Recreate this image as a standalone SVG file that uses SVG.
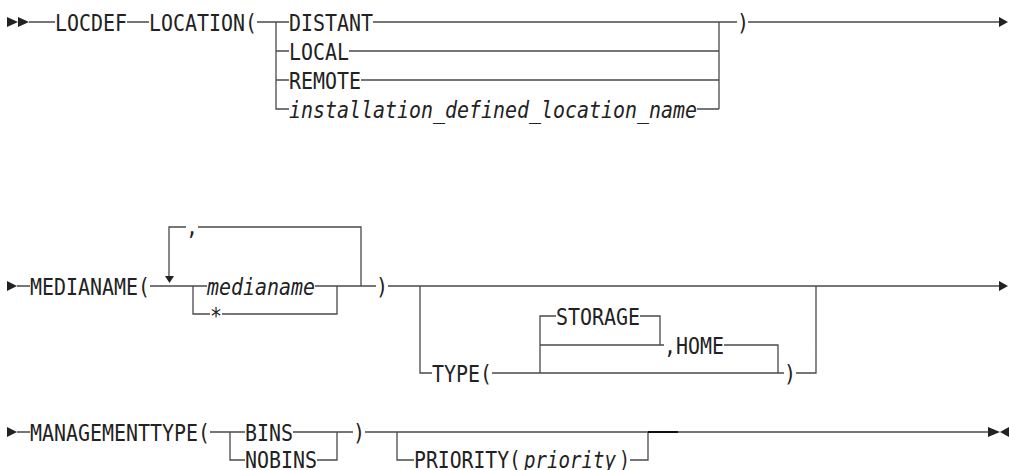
<svg xmlns="http://www.w3.org/2000/svg" width="1009" height="470" viewBox="0 0 1009 470">
<style>
text{font-family:"DejaVu Sans Mono","Liberation Mono",monospace;font-size:23px;fill:#222}
.i{font-style:italic}
.c path{fill:none;stroke:#4a4a4a;stroke-width:1.3}
.c path.dk{stroke:#111;stroke-width:2}
.ah{fill:#222}
</style>
<rect width="1009" height="470" fill="#fff"/>
<g class="c" id="connectors">
<path d="M29 22H55M127 22H149M257 22H289M276 22V109H289M276 51H289M276 80H289M373 22H737M719 22V109M349 51H719M361 80H719M697 109H719M748 22H1000"/>
<path d="M17 286H30M150 286H207M169 276V227H186M198 227H361V286M193 286V314H210M222 314H337V286M315 286H376M388 286H999"/>
<path d="M420 286V373H432M492 373H784M796 373H816V286M540 373V316H556M640 316H660V345M540 345H664M724 345H778V373"/>
<path d="M17 432H30M210 432H245M230 432V460H245M293 432H353M317 460H337V432M365 432H648M397 432V460H414M630 460H648V432M678 432H988"/>
<path class="dk" d="M648 432H678"/>
<polygon class="ah" points="7,17 18,22 7,27"/>
<polygon class="ah" points="18,17 29,22 18,27"/>
<polygon class="ah" points="999,17 1008,22 999,27"/>
<polygon class="ah" points="7,281 17,286 7,291"/>
<polygon class="ah" points="165,276 174,276 169.5,283"/>
<polygon class="ah" points="999,281 1008,286 999,291"/>
<polygon class="ah" points="7,427 17,432 7,437"/>
<polygon class="ah" points="988,427 1000,432 988,437"/>
<polygon class="ah" points="1009,427 1000,432 1009,437"/>
</g>
<g id="n-locdef"><text x="55" y="30.5" textLength="72" lengthAdjust="spacingAndGlyphs">LOCDEF</text></g>
<g id="n-location"><text x="149" y="30.5" textLength="108" lengthAdjust="spacingAndGlyphs">LOCATION(</text></g>
<g id="n-distant"><text x="289" y="30.5" textLength="84" lengthAdjust="spacingAndGlyphs">DISTANT</text></g>
<g id="n-local"><text x="289" y="59.5" textLength="60" lengthAdjust="spacingAndGlyphs">LOCAL</text></g>
<g id="n-remote"><text x="289" y="88.5" textLength="72" lengthAdjust="spacingAndGlyphs">REMOTE</text></g>
<g id="n-instname"><text class="i" x="289" y="117.5" textLength="408" lengthAdjust="spacingAndGlyphs">installation_defined_location_name</text></g>
<g id="n-close1"><text x="737" y="30.5" textLength="12" lengthAdjust="spacingAndGlyphs">)</text></g>
<g id="n-medianame-kw"><text x="30" y="294.5" textLength="120" lengthAdjust="spacingAndGlyphs">MEDIANAME(</text></g>
<g id="n-comma"><text x="186" y="235" textLength="12" lengthAdjust="spacingAndGlyphs">,</text></g>
<g id="n-medianame"><text class="i" x="207" y="294.5" textLength="108" lengthAdjust="spacingAndGlyphs">medianame</text></g>
<g id="n-star"><text x="210" y="324" textLength="12" lengthAdjust="spacingAndGlyphs">*</text></g>
<g id="n-close2"><text x="376" y="294.5" textLength="12" lengthAdjust="spacingAndGlyphs">)</text></g>
<g id="n-type"><text x="432" y="381.5" textLength="60" lengthAdjust="spacingAndGlyphs">TYPE(</text></g>
<g id="n-storage"><text x="556" y="324.5" textLength="84" lengthAdjust="spacingAndGlyphs">STORAGE</text></g>
<g id="n-home"><text x="664" y="353.5" textLength="60" lengthAdjust="spacingAndGlyphs">,HOME</text></g>
<g id="n-close3"><text x="784" y="381.5" textLength="12" lengthAdjust="spacingAndGlyphs">)</text></g>
<g id="n-mgmt"><text x="30" y="440.5" textLength="180" lengthAdjust="spacingAndGlyphs">MANAGEMENTTYPE(</text></g>
<g id="n-bins"><text x="245" y="440.5" textLength="48" lengthAdjust="spacingAndGlyphs">BINS</text></g>
<g id="n-nobins"><text x="245" y="468" textLength="72" lengthAdjust="spacingAndGlyphs">NOBINS</text></g>
<g id="n-close4"><text x="353" y="440.5" textLength="12" lengthAdjust="spacingAndGlyphs">)</text></g>
<g id="n-priority">
<text x="414" y="468" textLength="107" lengthAdjust="spacingAndGlyphs">PRIORITY(</text>
<text class="i" x="524" y="468" textLength="92" lengthAdjust="spacingAndGlyphs">priority</text>
<text x="619" y="468" textLength="11" lengthAdjust="spacingAndGlyphs">)</text>
</g>
</svg>
